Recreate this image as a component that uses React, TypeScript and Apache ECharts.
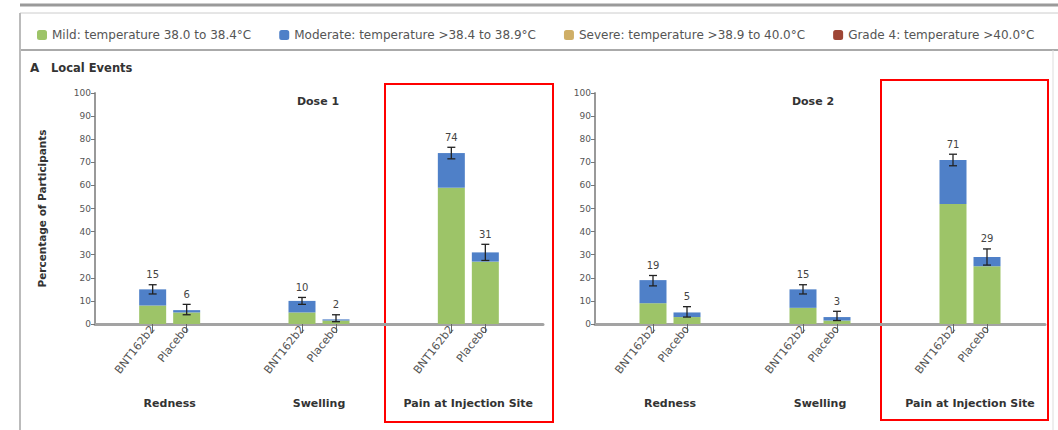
import React, { useEffect, useRef } from "react";
import * as echarts from "echarts";

// ---- data ----
const categories = ["Redness", "Swelling", "Pain at Injection Site"];
const arms = ["BNT162b2", "Placebo"];
const doseTitles = ["Dose 1", "Dose 2"];
const levelNames = [
  "Mild: temperature 38.0 to 38.4°C",
  "Moderate: temperature >38.4 to 38.9°C",
  "Severe: temperature >38.9 to 40.0°C",
  "Grade 4: temperature >40.0°C",
];
const levelColors = ["#9dc468", "#4f80c8", "#cfae66", "#9e4535"];

// per category (Redness, Swelling, Pain)
const dose1BntMild = [8, 5, 59];
const dose1BntModerate = [7, 5, 15];
const dose1BntSevere = [0, 0, 0];
const dose1BntGrade4 = [0, 0, 0];
const dose1PlaMild = [5, 1.5, 27];
const dose1PlaModerate = [1, 0.5, 4];
const dose1PlaSevere = [0, 0, 0];
const dose1PlaGrade4 = [0, 0, 0];
const dose1BntTotal = [15, 10, 74];
const dose1PlaTotal = [6, 2, 31];
const dose1BntCI = [[13, 17], [8.5, 11.5], [71.5, 76.5]];
const dose1PlaCI = [[4, 8.5], [1, 4], [27.5, 34.5]];

const dose2BntMild = [9, 7, 52];
const dose2BntModerate = [10, 8, 19];
const dose2BntSevere = [0, 0, 0];
const dose2BntGrade4 = [0, 0, 0];
const dose2PlaMild = [3, 1.5, 25];
const dose2PlaModerate = [2, 1.5, 4];
const dose2PlaSevere = [0, 0, 0];
const dose2PlaGrade4 = [0, 0, 0];
const dose2BntTotal = [19, 15, 71];
const dose2PlaTotal = [5, 3, 29];
const dose2BntCI = [[16.5, 21], [13, 17], [68.5, 73.5]];
const dose2PlaCI = [[3, 7.5], [1.5, 5.5], [25.5, 32.5]];

const FONT = "DejaVu Sans";

export default function App() {
  const ref = useRef<HTMLDivElement>(null);
  useEffect(() => {
    document.body.style.margin = "0";
    const chart = echarts.init(ref.current!, null, { renderer: "svg" });

    const grids = [
      { left: 95, top: 93, width: 448, height: 231 },
      { left: 595, top: 93, width: 450, height: 231 },
    ];
    const barWidth = 27;
    const barGapPx = 7;

    const panels = [
      {
        bnt: [dose1BntMild, dose1BntModerate, dose1BntSevere, dose1BntGrade4],
        pla: [dose1PlaMild, dose1PlaModerate, dose1PlaSevere, dose1PlaGrade4],
        bntTotal: dose1BntTotal, plaTotal: dose1PlaTotal, bntCI: dose1BntCI, plaCI: dose1PlaCI,
      },
      {
        bnt: [dose2BntMild, dose2BntModerate, dose2BntSevere, dose2BntGrade4],
        pla: [dose2PlaMild, dose2PlaModerate, dose2PlaSevere, dose2PlaGrade4],
        bntTotal: dose2BntTotal, plaTotal: dose2PlaTotal, bntCI: dose2BntCI, plaCI: dose2PlaCI,
      },
    ];

    const xAxis: any[] = [];
    const yAxis: any[] = [];
    const series: any[] = [];

    grids.forEach((g, p) => {
      const band = g.width / categories.length;
      const off = (barWidth + barGapPx) / 2 / band;
      const positions: number[] = [];
      const armOf: string[] = [];
      categories.forEach((_, c) => {
        arms.forEach((a, i) => {
          positions.push(c + 0.5 + (i === 0 ? -off : off));
          armOf.push(a);
        });
      });
      const armLabel = (v: number) => {
        let best = 0;
        positions.forEach((q, i) => {
          if (Math.abs(q - v) < Math.abs(positions[best] - v)) best = i;
        });
        return armOf[best];
      };

      xAxis.push({
        type: "value",
        gridIndex: p,
        min: 0,
        max: 3,
        axisLine: { show: true, lineStyle: { color: "#a3a3a3", width: 3 } },
        axisTick: { show: true, customValues: positions, length: 9, lineStyle: { color: "#666", width: 1 } },
        axisLabel: {
          customValues: positions,
          rotate: 52,
          formatter: (v: number) => armLabel(v),
          fontSize: 11,
          color: "#555",
          margin: 3,
          fontFamily: FONT,
        },
        splitLine: { show: false },
      });
      xAxis.push({
        type: "category",
        gridIndex: p,
        data: categories,
        position: "bottom",
        offset: 66,
        axisLine: { show: false },
        axisTick: { show: false },
        axisLabel: { fontSize: 11, fontWeight: "bold", color: "#333", fontFamily: FONT, interval: 0 },
      });
      yAxis.push({
        type: "value",
        gridIndex: p,
        min: 0,
        max: 100,
        interval: 10,
        name: p === 0 ? "Percentage of Participants" : "",
        nameLocation: "middle",
        nameRotate: 90,
        nameGap: 48,
        nameTextStyle: { fontSize: 10.5, fontWeight: "bold", color: "#333", fontFamily: FONT },
        axisLine: { show: true, lineStyle: { color: "#999", width: 2 } },
        axisTick: { show: true, length: 4, lineStyle: { color: "#777" } },
        axisLabel: { fontSize: 9, color: "#555", margin: 4, fontFamily: FONT },
        splitLine: { show: false },
      });

      const pn = panels[p];
      [pn.bnt, pn.pla].forEach((levels, a) => {
        levels.forEach((vals, li) => {
          series.push({
            type: "bar",
            name: levelNames[li],
            xAxisIndex: p * 2 + 1,
            yAxisIndex: p,
            stack: "p" + p + "a" + a,
            barWidth,
            barGap: (barGapPx / barWidth) * 100 + "%",
            itemStyle: { color: levelColors[li] },
            data: vals,
          });
        });
      });

      const errData: number[][] = [];
      categories.forEach((_, c) => {
        errData.push([positions[c * 2], pn.bntCI[c][0], pn.bntCI[c][1], pn.bntTotal[c]]);
        errData.push([positions[c * 2 + 1], pn.plaCI[c][0], pn.plaCI[c][1], pn.plaTotal[c]]);
      });
      series.push({
        type: "custom",
        xAxisIndex: p * 2,
        yAxisIndex: p,
        z: 10,
        data: errData,
        renderItem: (params: any, api: any) => {
          const x = api.value(0);
          const pLo = api.coord([x, api.value(1)]);
          const pHi = api.coord([x, api.value(2)]);
          const st = { stroke: "#222", lineWidth: 1.3 };
          return {
            type: "group",
            children: [
              { type: "line", shape: { x1: pHi[0], y1: pHi[1], x2: pLo[0], y2: pLo[1] }, style: st },
              { type: "line", shape: { x1: pHi[0] - 4, y1: pHi[1], x2: pHi[0] + 4, y2: pHi[1] }, style: st },
              { type: "line", shape: { x1: pLo[0] - 4, y1: pLo[1], x2: pLo[0] + 4, y2: pLo[1] }, style: st },
              {
                type: "text",
                x: pHi[0],
                y: pHi[1] - 5,
                style: {
                  text: String(api.value(3)),
                  align: "center",
                  verticalAlign: "bottom",
                  fontSize: 10,
                  fill: "#444",
                  fontFamily: FONT,
                },
              },
            ],
          };
        },
      });
    });

    const gray = "#9a9a9a";
    chart.setOption({
      animation: false,
      backgroundColor: "#fff",
      textStyle: { fontFamily: FONT },
      legend: {
        data: levelNames,
        top: 24,
        left: 32,
        width: 1020,
        itemWidth: 10,
        itemHeight: 10,
        itemGap: 28,
        textStyle: { fontSize: 12, color: "#555", fontFamily: FONT },
        selectedMode: false,
      },
      grid: grids,
      xAxis,
      yAxis,
      series,
      graphic: [
        { type: "line", shape: { x1: 20, y1: 5, x2: 1058, y2: 5 }, style: { stroke: gray, lineWidth: 3 } },
        { type: "line", shape: { x1: 20, y1: 13, x2: 1058, y2: 13 }, style: { stroke: "#ccc", lineWidth: 1 } },
        { type: "line", shape: { x1: 20, y1: 50, x2: 1058, y2: 50 }, style: { stroke: "#aaa", lineWidth: 2 } },
        { type: "line", shape: { x1: 20, y1: 13, x2: 20, y2: 430 }, style: { stroke: "#bbb", lineWidth: 2 } },
        { type: "line", shape: { x1: 1053, y1: 50, x2: 1053, y2: 430 }, style: { stroke: "#ddd", lineWidth: 1 } },
        { type: "text", x: 30, y: 62, style: { text: "A", font: "bold 12px 'DejaVu Sans'", fill: "#333" } },
        { type: "text", x: 51, y: 62, style: { text: "Local Events", font: "bold 11.5px 'DejaVu Sans'", fill: "#333" } },
        { type: "text", x: 318, y: 96, style: { text: doseTitles[0], font: "bold 11px 'DejaVu Sans'", fill: "#333", align: "center" } },
        { type: "text", x: 813, y: 96, style: { text: doseTitles[1], font: "bold 11px 'DejaVu Sans'", fill: "#333", align: "center" } },
        { type: "rect", shape: { x: 385, y: 84, width: 168, height: 338 }, style: { fill: "none", stroke: "#ff0000", lineWidth: 2 } },
        { type: "rect", shape: { x: 881, y: 80, width: 167, height: 340 }, style: { fill: "none", stroke: "#ff0000", lineWidth: 2 } },
      ],
    });
    return () => chart.dispose();
  }, []);
  return <div ref={ref} style={{ width: 1058, height: 430 }} />;
}
